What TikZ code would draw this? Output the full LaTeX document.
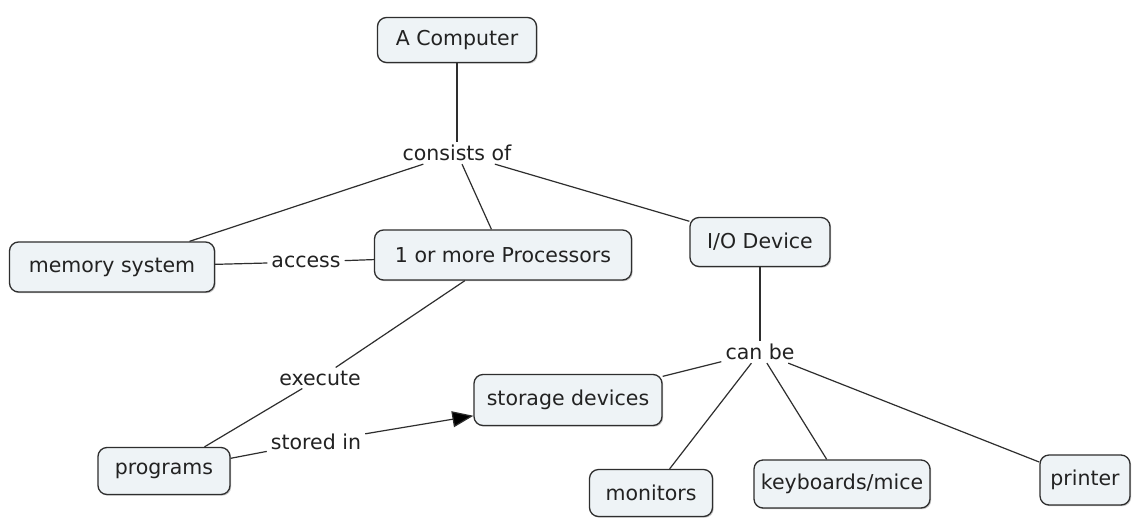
\documentclass[tikz,border=0pt]{standalone}
\usepackage{fontspec}
\setmainfont{DejaVu Sans}
\usetikzlibrary{arrows.meta,shadows}
\definecolor{boxfill}{HTML}{EEF3F6}
\definecolor{boxline}{HTML}{2E2E2E}
\definecolor{txt}{HTML}{222222}
\begin{document}
\begin{tikzpicture}[x=1pt,y=-1pt,
  concept/.style={draw=boxline,fill=boxfill,line width=1.3pt,rounded corners=9pt,
    minimum height=47pt,inner sep=0pt,text=txt,font=\fontsize{20.5}{24}\selectfont,
    drop shadow={shadow xshift=1.2pt,shadow yshift=-1.2pt,fill=black!45,opacity=0.5}},
  phrase/.style={fill=white,inner xsep=4pt,inner ysep=3pt,text=txt,font=\fontsize{20.5}{24}\selectfont},
  link/.style={draw=boxline,line width=1.2pt}]
\useasboundingbox (0,0) rectangle (1137,517);
\fill[white] (0,0) rectangle (1137,517);
% concepts
\node[concept,minimum width=159pt,minimum height=45pt] (comp) at (457,40) {A Computer};
\node[concept,minimum width=205pt,minimum height=50pt] (mem) at (112,267) {memory system};
\node[concept,minimum width=257pt,minimum height=50pt] (proc) at (503,255) {1 or more Processors};
\node[concept,minimum width=140pt,minimum height=49pt] (io) at (760,242) {I/O Device};
\node[concept,minimum width=132pt,minimum height=47pt] (prog) at (164,471) {programs};
\node[concept,minimum width=188pt,minimum height=51pt] (stor) at (568,400) {storage devices};
\node[concept,minimum width=123pt,minimum height=47pt] (mon) at (651,493) {monitors};
\node[concept,minimum width=176pt,minimum height=48pt] (key) at (842,484) {keyboards/mice};
\node[concept,minimum width=90pt,minimum height=50pt] (prn) at (1085,480) {printer};
% linking phrases
\node[phrase] (cons) at (457,153) {consists of};
\node[phrase] (acc) at (306,262) {access};
\node[phrase] (exe) at (320,378) {execute};
\node[phrase] (sto) at (316,442) {stored in};
\node[phrase] (can) at (760,352) {can be};
% connectors
\draw[link] (comp) -- (cons);
\draw[link] (cons) -- (mem);
\draw[link] (cons) -- (proc);
\draw[link] (cons) -- (io);
\draw[link] (mem) -- (acc);
\draw[link] (acc) -- (proc);
\draw[link] (proc) -- (exe);
\draw[link] (exe) -- (prog);
\draw[link] (prog) -- (sto);
\draw[link,-{Triangle[length=21pt,width=16pt,fill=black]}] (sto) -- (stor);
\draw[link] (io) -- (can);
\draw[link] (can) -- (stor);
\draw[link] (can) -- (mon);
\draw[link] (can) -- (key);
\draw[link] (can) -- (prn);
\end{tikzpicture}
\end{document}
